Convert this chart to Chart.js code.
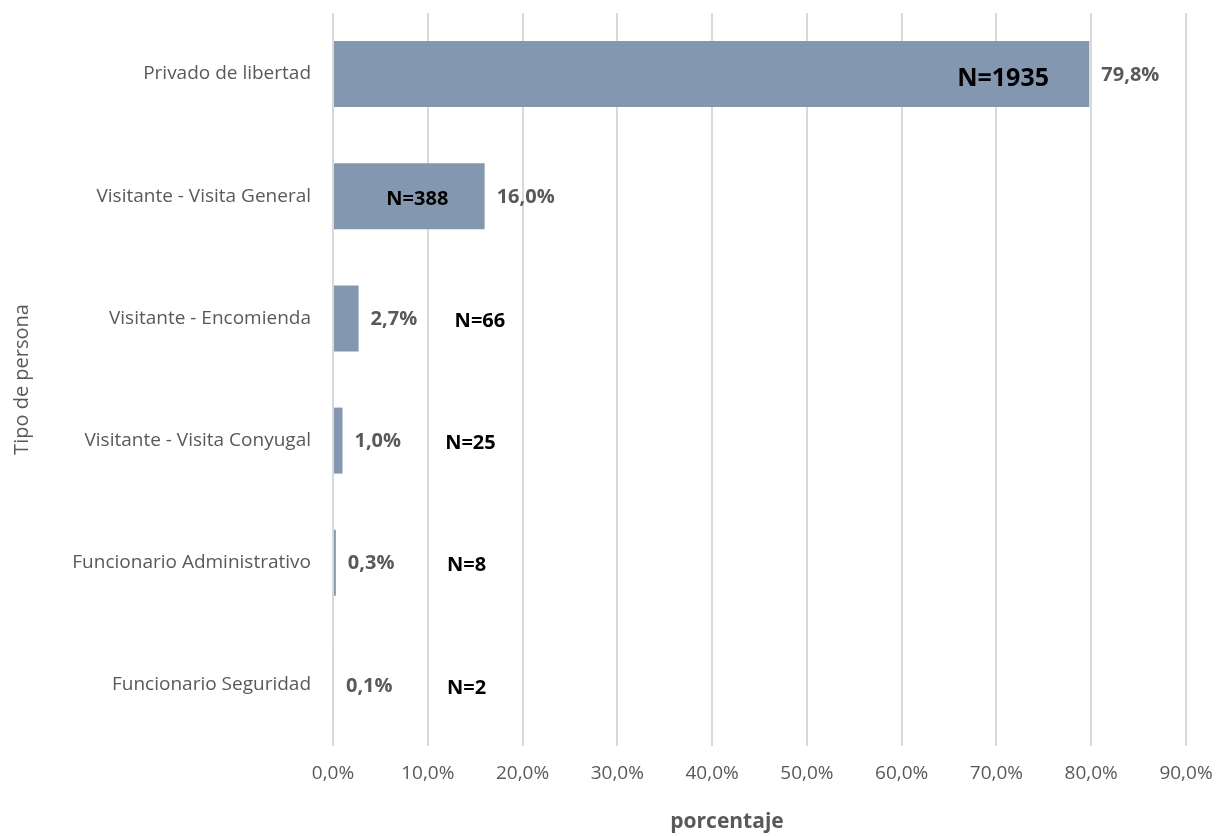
<!DOCTYPE html>
<html>
<head>
<meta charset="utf-8">
<script src="https://cdn.jsdelivr.net/npm/chart.js@4/dist/chart.umd.min.js"></script>
<style>
body{margin:0;background:#fff;}
#wrap{width:1220px;height:836px;}
</style>
</head>
<body>
<div id="wrap"><canvas id="chart" width="1220" height="836"></canvas></div>
<script>
const categories=["Privado de libertad","Visitante - Visita General","Visitante - Encomienda","Visitante - Visita Conyugal","Funcionario Administrativo","Funcionario Seguridad"];
const percents=[79.8,16.0,2.7,1.0,0.3,0.1];
const counts=[1935,388,66,25,8,2];
// where the N= label sits, in axis units (%)
const nLabelAt=[70.7,8.9,15.5,14.5,14.1,14.1];

const font="'Open Sans', 'Noto Sans', sans-serif";

const labelPlugin={
id:"labels",
afterDatasetsDraw(chart){
let ctx=chart.ctx;
let meta=chart.getDatasetMeta(0);
let xs=chart.scales.x;
ctx.save();
ctx.textBaseline="middle";
meta.data.forEach((bar,i)=>{
ctx.font="bold 20px "+font;
ctx.fillStyle="#595959";
ctx.textAlign="left";
ctx.fillText(percents[i].toFixed(1).replace(".",",")+"%",bar.x+12,bar.y+1);
ctx.fillStyle="#000";
ctx.textAlign="center";
ctx.font=(i==0?"bold 25px ":"bold 20px ")+font;
ctx.fillText("N="+counts[i],xs.getPixelForValue(nLabelAt[i]),bar.y+(i==0?5:3));
});
// x axis title
ctx.font="bold 21px "+font;
ctx.fillStyle="#595959";
ctx.textAlign="center";
ctx.fillText("porcentaje",727,822);
ctx.restore();
}
};

new Chart(document.getElementById("chart"),{
type:"bar",
data:{
labels:categories,
datasets:[{
data:percents,
backgroundColor:"#8497B0",
borderColor:"#8497B0",
categoryPercentage:0.54,
barPercentage:1
}]
},
options:{
indexAxis:"y",
responsive:false,
animation:false,
layout:{padding:{top:13,right:34,bottom:0,left:6}},
plugins:{legend:{display:false},tooltip:{enabled:false}},
scales:{
x:{
min:0,max:90,
ticks:{stepSize:10,color:"#595959",font:{family:font,size:19},padding:16,
callback:v=>v.toFixed(1).replace(".",",")+"%"},
grid:{color:"#d9d9d9",lineWidth:2,drawTicks:false},
border:{display:false},
afterFit(scale){scale.height=90;scale.paddingLeft=0;scale.paddingRight=0;}
},
y:{
ticks:{color:"#595959",font:{family:font,size:19},padding:14},
grid:{display:false},
border:{display:false},
title:{display:true,text:"Tipo de persona",color:"#595959",font:{family:font,size:20},padding:{bottom:0}},
afterFit(scale){scale.width=327;scale.paddingTop=0;scale.paddingBottom=0;}
}
}
},
plugins:[labelPlugin]
});
</script>
</body>
</html>
